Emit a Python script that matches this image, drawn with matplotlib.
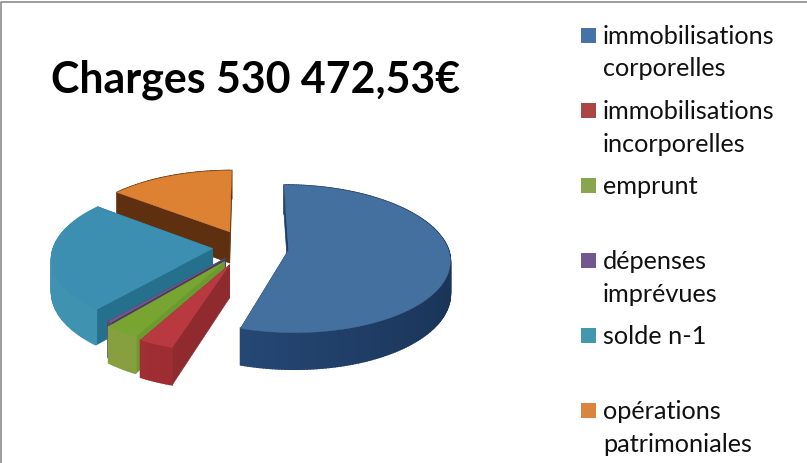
import matplotlib
matplotlib.use('Agg')
import matplotlib.pyplot as plt
from matplotlib.colors import to_rgb
from matplotlib.patches import Polygon, Rectangle
import numpy as np

title = 'Charges 530 472,53€'
labels = ['immobilisations\ncorporelles', 'immobilisations\nincorporelles', 'emprunt',
          'dépenses\nimprévues', 'solde n-1', 'opérations\npatrimoniales']
values = [290700, 15900, 15900, 1800, 129700, 76472.53]

legend_colors = ['#4572a7', '#aa4643', '#89a54e', '#71588f', '#4198af', '#db843d']
top_colors = ['#44709f', '#b83a40', '#78a532', '#71588f', '#3c8fb0', '#dd8233']
cut_colors = ['#1d3c66', '#8f2a2e', '#6a9a30', '#4a3a60', '#25708c', '#5e300f']
side_left = ['#2b5284', '#a62f36', '#87a03f', '#5a4672', '#3f93b0', '#5e300f']
side_right = ['#1a3458', '#8f2a2e', '#87a03f', '#5a4672', '#3f93b0', '#5e300f']
explode = [0.27, 0.26, 0.24, 0.2, 0.21, 0.24]
draw_order = [5, 4, 3, 2, 1, 0]

cx, cy = 246, 247
rx, ry = 159, 72
depth = 32
persp = 0.12

plt.rcParams['font.family'] = ['Lato', 'DejaVu Sans']
fig = plt.figure(figsize=(8.07, 4.63), dpi=100)
ax = fig.add_axes([0, 0, 1, 1])
ax.set_xlim(0, 807)
ax.set_ylim(463, 0)
ax.axis('off')


def project(u, v, z=0):
    w = 1 + persp * v
    return cx + rx * u / w, cy - ry * v / w + z * depth / w


def draw_slice(i, start, end):
    mid = np.radians((start + end) / 2)
    ou, ov = explode[i] * np.sin(mid), explode[i] * np.cos(mid)
    th = np.radians(np.arange(start, end + 0.5, 1.0))
    if th[-1] < np.radians(end):
        th = np.append(th, np.radians(end))
    arc_u = ou + np.sin(th)
    arc_v = ov + np.cos(th)

    # cut faces first, the top covers whatever faces away
    for k in [0, -1]:
        quad = [project(ou, ov), project(arc_u[k], arc_v[k]),
                project(arc_u[k], arc_v[k], 1), project(ou, ov, 1)]
        ax.add_patch(Polygon(quad, closed=True, fc=cut_colors[i], ec=cut_colors[i], lw=0.5))

    # outer wall, shaded along the arc
    c1, c2 = np.array(to_rgb(side_left[i])), np.array(to_rgb(side_right[i]))
    for k in range(len(th) - 1):
        t = np.clip((np.sin(th[k]) + 1) / 2, 0, 1)
        col = c1 * (1 - t) + c2 * t
        quad = [project(arc_u[k], arc_v[k]), project(arc_u[k + 1], arc_v[k + 1]),
                project(arc_u[k + 1], arc_v[k + 1], 1), project(arc_u[k], arc_v[k], 1)]
        ax.add_patch(Polygon(quad, closed=True, fc=col, ec=col, lw=1.2))

    pts = [project(ou, ov)] + [project(a, b) for a, b in zip(arc_u, arc_v)]
    ax.add_patch(Polygon(pts, closed=True, fc=top_colors[i], ec=top_colors[i], lw=0.3))


angles = np.cumsum([0] + values) / sum(values) * 360
for i in draw_order:
    draw_slice(i, angles[i], angles[i + 1])

ax.text(51, 92, title, fontsize=30.9, fontweight='bold', color='black', va='baseline')

for i, label in enumerate(labels):
    top = 28 + 75 * i
    ax.add_patch(Rectangle((581, top), 15, 15, fc=legend_colors[i], ec='none'))
    for j, line in enumerate(label.split('\n')):
        ax.text(603, top + 16 + 32.5 * j, line, fontsize=18.2, color='#111111', va='baseline')

# chart frame, only top and left show in the crop
ax.plot([1, 1, 807], [463, 2, 2], color='#8c8c8c', lw=1.2, clip_on=False)

fig.savefig('out.png', dpi=100)
